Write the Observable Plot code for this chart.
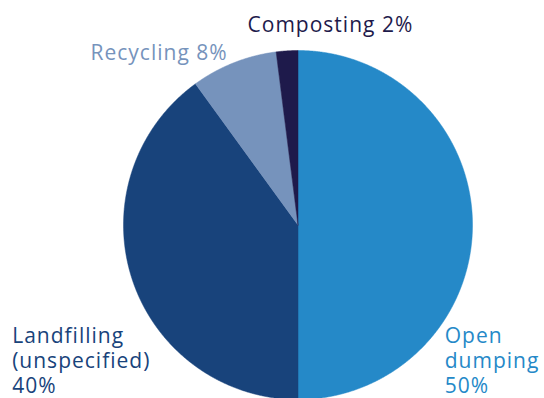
<!DOCTYPE html>
<html><head><meta charset="utf-8">
<script src="https://cdn.jsdelivr.net/npm/d3@7"></script>
<script src="https://cdn.jsdelivr.net/npm/@observablehq/plot@0.6"></script>
<style>body{margin:0;background:#fff}</style>
</head><body><div id="chart"></div>
<script>
// Data
const categories = ["Open dumping", "Landfilling (unspecified)", "Recycling", "Composting"];
const shares = [50, 40, 8, 2];
const labels = ["Open\ndumping\n50%", "Landfilling\n(unspecified)\n40%", "Recycling 8%", "Composting 2%"];
const colors = ["#2589c8", "#18437b", "#7693bc", "#1e1a4b"];
// label anchors in pie-radius units (x right, y up), baseline of last line
const labelX = [0.841, -1.638, -1.189, -0.289];
const labelY = [-0.964, -0.964, 0.947, 1.106];

const arcs = d3.pie().sort(null).value(d => d)(shares);
const points = [];
arcs.forEach((a, i) => {
  const cat = categories[i];
  points.push({cat, x: 0, y: 0});
  const n = Math.max(2, Math.ceil((a.endAngle - a.startAngle) / 0.004));
  for (let k = 0; k <= n; k++) {
    const t = a.startAngle + (a.endAngle - a.startAngle) * k / n;
    points.push({cat, x: Math.sin(t), y: Math.cos(t)});
  }
  points.push({cat, x: 0, y: 0});
});
const labelData = categories.map((c, i) => ({cat: c, text: labels[i], x: labelX[i], y: labelY[i]}));

const chart = Plot.plot({
  width: 544, height: 398, margin: 0,
  x: {domain: [-1, 1], range: [123, 472], axis: null},
  y: {domain: [-1, 1], range: [399, 50], axis: null},
  color: {domain: categories, range: colors},
  style: {fontFamily: "'Open Sans', sans-serif", background: "white", letterSpacing: "1px"},
  marks: [
    Plot.line(points, {x: "x", y: "y", z: "cat", fill: "cat", stroke: "cat", strokeWidth: 0.5, curve: "linear"}),
    Plot.text(labelData, {x: "x", y: "y", text: "text", fill: "cat", textAnchor: "start", lineAnchor: "bottom", lineHeight: 1.2, fontSize: 21})
  ]
});
document.getElementById("chart").appendChild(chart);
</script>
</body></html>
